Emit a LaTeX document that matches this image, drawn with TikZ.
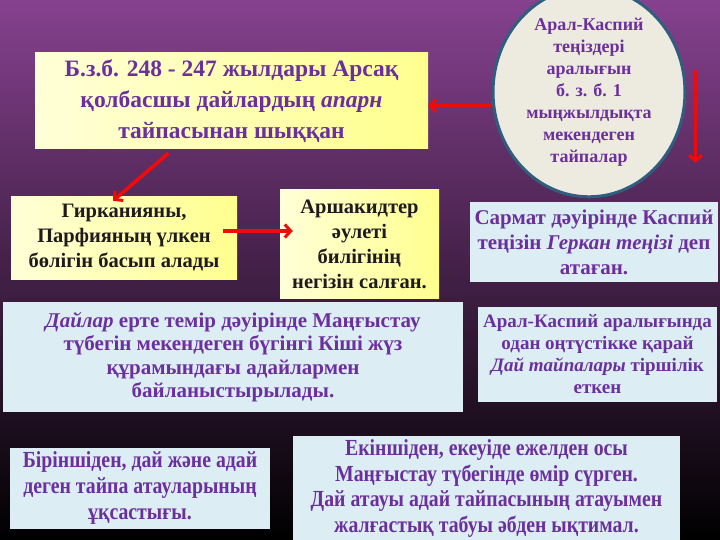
\documentclass[tikz,border=0pt]{standalone}
\usepackage{fontspec}
\setmainfont{Liberation Serif}
\newfontfamily\narrowserif[FakeStretch=0.86]{Liberation Serif}
\usetikzlibrary{arrows.meta,shapes.geometric,calc}
\definecolor{txtpurple}{HTML}{6B2F9E}
\definecolor{txtdark}{HTML}{1E1A1E}
\definecolor{boxblue}{HTML}{DCEEF4}
\definecolor{paleyellow}{HTML}{FFFFD8}
\definecolor{deepyellow}{HTML}{FFFF8E}
\definecolor{bgtop}{HTML}{86418F}
\definecolor{bgmid}{HTML}{4A2152}
\definecolor{ringblue}{HTML}{2F5E7E}
\definecolor{ringfill}{HTML}{EDEBE0}
\definecolor{arrowred}{HTML}{F00A0A}

\begin{document}
\begin{tikzpicture}[x=1pt, y=-1pt,
  yellowbox/.style={rectangle, left color=paleyellow, right color=deepyellow, inner sep=0pt, align=center, text=txtdark},
  bluebox/.style={rectangle, fill=boxblue, inner sep=0pt, align=center, text=txtpurple},
  redarrow/.style={draw=arrowred, line width=3.6pt, -{Straight Barb[length=6pt, width=13pt, line width=3pt]}}]
%background
\shade[top color=bgtop, middle color=bgmid, bottom color=black] (0,0) rectangle (720,540);
\useasboundingbox (0,0) rectangle (720,540);

%boxes
\node[yellowbox, text=txtpurple, minimum width=393pt, minimum height=96pt, font=\bfseries\fontsize{23.5}{31}\selectfont] (title) at (231.5,101)
  {Б.з.б. 248 - 247 жылдары Арсақ\\ қолбасшы дайлардың \textit{апарн}\\ тайпасынан шыққан};
\node[ellipse, draw=ringblue, line width=3pt, fill=ringfill, minimum width=192pt, minimum height=178pt, inner sep=0pt, align=center, text=txtpurple, font=\bfseries\fontsize{18}{22}\selectfont] (ring) at (589,92)
  {Арал-Каспий\\ теңіздері\\ аралығын\\ б. з. б. 1\\ мыңжылдықта\\ мекендеген\\ тайпалар};
\node[yellowbox, minimum width=226pt, minimum height=82pt, font=\bfseries\fontsize{20.5}{25}\selectfont] (hyrk) at (124,238)
  {Гирканияны,\\ Парфияның үлкен\\ бөлігін басып алады};
\node[yellowbox, minimum width=159pt, minimum height=108pt, font=\bfseries\fontsize{20.5}{25}\selectfont] (arsh) at (359.5,244)
  {Аршакидтер\\ әулеті\\ билігінің\\ негізін салған.};
\node[bluebox, minimum width=248pt, minimum height=80pt, font=\bfseries\fontsize{21}{25}\selectfont] (sarmat) at (594,242)
  {Сармат дәуірінде Каспий\\ теңізін \textit{Геркан теңізі} деп\\ атаған.};
\node[bluebox, minimum width=239pt, minimum height=95pt, font=\bfseries\fontsize{19}{22}\selectfont] (dai) at (597.5,354.5)
  {Арал-Каспий аралығында\\ одан оңтүстікке қарай\\ \textit{Дай тайпалары} тіршілік\\ еткен};
\node[bluebox, minimum width=460pt, minimum height=110pt, font=\bfseries\fontsize{21}{23.5}\selectfont] (dailar) at (233,357)
  {\textit{Дайлар} ерте темір дәуірінде Маңғыстау\\ түбегін мекендеген бүгінгі Кіші жүз\\ құрамындағы адайлармен\\ байланыстырылады.};
\node[bluebox, minimum width=260pt, minimum height=81pt, font=\narrowserif\bfseries\fontsize{23}{26}\selectfont] (first) at (140,488)
  {Біріншіден, дай және адай\\ деген тайпа атауларының\\ ұқсастығы.};
\node[bluebox, minimum width=387pt, minimum height=105pt, font=\narrowserif\bfseries\fontsize{23}{25.5}\selectfont] (second) at (486.5,488.5)
  {Екіншіден, екеуіде ежелден осы\\ Маңғыстау түбегінде өмір сүрген.\hspace{3.6em}\\ Дай атауы адай тайпасының атауымен\\ жалғастық табуы әбден ықтимал.};

%arrows
\coordinate (drop top) at ($(ring.east)+(9,-22)$);
\coordinate (drop end) at ($(ring.east)+(9,71)$);
\draw[redarrow] (ring.188) -- (title.east |- ring.188);
\draw[redarrow] ($(title.south)+(-63,4)$) -- ($(hyrk.north)+(-11,4)$);
\draw[redarrow] ($(hyrk.east)+(-14,-7)$) -- ($(arsh.west)+(13,-13)$);
\draw[redarrow] (drop top) -- (drop end);
\end{tikzpicture}
\end{document}
